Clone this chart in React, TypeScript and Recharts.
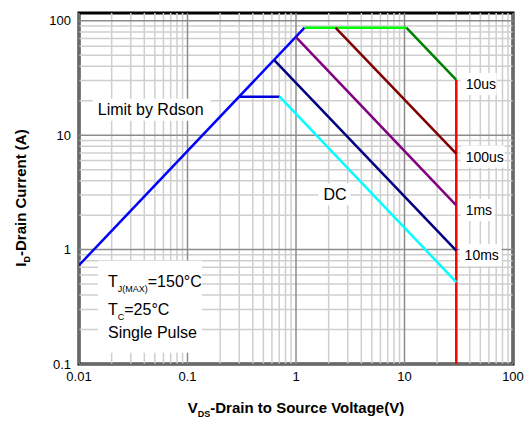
import { Line, LineChart, ReferenceArea, ReferenceDot, ReferenceLine, XAxis, YAxis } from "recharts";

// axis values
const xMajor = [0.01, 0.1, 1, 10, 100];
const xMinor = [
  0.02, 0.03, 0.04, 0.05, 0.06, 0.07, 0.08, 0.09,
  0.2, 0.3, 0.4, 0.5, 0.6, 0.7, 0.8, 0.9,
  2, 3, 4, 5, 6, 7, 8, 9,
  20, 30, 40, 50, 60, 70, 80, 90,
];
const yMajor = [0.1, 1, 10, 100];
const yMinor = [
  0.2, 0.3, 0.4, 0.5, 0.6, 0.7, 0.8, 0.9,
  2, 3, 4, 5, 6, 7, 8, 9,
  20, 30, 40, 50, 60, 70, 80, 90,
];
const xDomain = [0.01, 100];
const yDomain = [0.1, 117];

// SOA boundaries (V, A)
const limitRdson = [{ v: 0.01, i: 0.73 }, { v: 1.2, i: 87 }];
const us10Flat = [{ v: 1.2, i: 87 }, { v: 10.4, i: 87 }];
const us10Slope = [{ v: 10.4, i: 87 }, { v: 30, i: 30.4 }];
const us100 = [{ v: 2.31, i: 87 }, { v: 30, i: 6.9 }];
const ms1 = [{ v: 1.0, i: 72 }, { v: 30, i: 2.44 }];
const ms10 = [{ v: 0.63, i: 45.4 }, { v: 30, i: 0.98 }];
const dcFlat = [{ v: 0.3, i: 21.7 }, { v: 0.706, i: 21.7 }];
const dcSlope = [{ v: 0.706, i: 21.7 }, { v: 30, i: 0.52 }];
const vdsMax = [{ v: 30, i: 30.4 }, { v: 30, i: 0.1 }];

const font = "Arial, 'Liberation Sans', sans-serif";

const Note = ({ cx, cy, text, size = 14, w }: any) => (
  <g>
    <rect x={cx - 5} y={cy - 11} width={w} height={22} fill="#fff" />
    <text x={cx} y={cy} dy="0.36em" fontSize={size} fontFamily={font} fill="#000">
      {text}
    </text>
  </g>
);

const notes = [
  { v: 36.6, i: 28, text: "10us", w: 36 },
  { v: 36.6, i: 6.5, text: "100us", w: 44 },
  { v: 36.6, i: 2.22, text: "1ms", w: 34 },
  { v: 35.8, i: 0.895, text: "10ms", w: 42 },
];

const CondBox = ({ cx, cy }: any) => (
  <g fontFamily={font} fill="#000">
    <rect x={cx} y={cy} width={104} height={92} fill="#fff" />
    <text x={cx + 10} y={cy + 26} fontSize={16}>
      T<tspan fontSize={9} dy={5}>J(MAX)</tspan>
      <tspan dy={-5}>=150°C</tspan>
    </text>
    <text x={cx + 10} y={cy + 54} fontSize={16}>
      T<tspan fontSize={9} dy={5}>C</tspan>
      <tspan dy={-5}>=25°C</tspan>
    </text>
    <text x={cx + 10} y={cy + 77} fontSize={16}>Single Pulse</text>
  </g>
);

const seg = (data: any[], color: string, key: string) => (
  <Line
    key={key}
    data={data}
    dataKey="i"
    type="linear"
    stroke={color}
    strokeWidth={2.5}
    dot={false}
    isAnimationActive={false}
  />
);

export default function App() {
  return (
    <div style={{ position: "absolute", left: 0, top: 0, background: "#fff", fontFamily: font }}>
      <LineChart width={529} height={425} margin={{ top: 13, right: 16, bottom: 31, left: 0 }}>
        <XAxis
          dataKey="v"
          type="number"
          scale="log"
          domain={xDomain}
          allowDataOverflow
          ticks={xMajor}
          tickFormatter={(v) => String(v)}
          axisLine={false}
          tickLine={false}
          tick={{ fontSize: 13, fill: "#000" }}
          height={30}
          label={{
            content: () => (
              <text x={296} y={413} textAnchor="middle" fontSize={15} fontWeight="bold" fontFamily={font} fill="#000">
                V<tspan fontSize={9} dy={4}>DS</tspan>
                <tspan dy={-4}>-Drain to Source Voltage(V)</tspan>
              </text>
            ),
          }}
        />
        <YAxis
          type="number"
          scale="log"
          domain={yDomain}
          allowDataOverflow
          ticks={yMajor}
          tickFormatter={(v) => String(v)}
          axisLine={false}
          tickLine={false}
          tick={{ fontSize: 13, fill: "#000" }}
          width={79}
          label={{
            content: () => (
              <text
                x={26}
                y={198}
                transform="rotate(-90 26 198)"
                textAnchor="middle"
                fontSize={15}
                fontWeight="bold"
                fontFamily={font}
                fill="#000"
              >
                I<tspan fontSize={9} dy={4}>D</tspan>
                <tspan dy={-4}>-Drain Current (A)</tspan>
              </text>
            ),
          }}
        />
        {/* inner frame ticks */}
        <YAxis yAxisId="tl" orientation="left" mirror type="number" scale="log" domain={yDomain} allowDataOverflow
          ticks={[...yMajor, ...yMinor]} interval={0} tick={false} axisLine={false} tickLine={{ stroke: "#000" }} tickSize={4} />
        <YAxis yAxisId="tr" orientation="right" mirror type="number" scale="log" domain={yDomain} allowDataOverflow
          ticks={[...yMajor, ...yMinor]} interval={0} tick={false} axisLine={false} tickLine={{ stroke: "#000" }} tickSize={4} />
        <XAxis xAxisId="tb" orientation="bottom" mirror type="number" scale="log" domain={xDomain} allowDataOverflow
          ticks={[...xMajor, ...xMinor]} interval={0} tick={false} axisLine={false} tickLine={{ stroke: "#000" }} tickSize={4} />
        <XAxis xAxisId="tt" orientation="top" mirror type="number" scale="log" domain={xDomain} allowDataOverflow
          ticks={[...xMajor, ...xMinor]} interval={0} tick={false} axisLine={false} tickLine={{ stroke: "#000" }} tickSize={4} />

        {xMinor.map((v) => (
          <ReferenceLine key={"xm" + v} x={v} stroke="#cfcfcf" strokeWidth={1.5} />
        ))}
        {yMinor.map((v) => (
          <ReferenceLine key={"ym" + v} y={v} stroke="#cfcfcf" strokeWidth={1.5} />
        ))}
        {xMajor.map((v) => (
          <ReferenceLine key={"xM" + v} x={v} stroke="#8c8c8c" strokeWidth={1.5} />
        ))}
        {yMajor.map((v) => (
          <ReferenceLine key={"yM" + v} y={v} stroke="#8c8c8c" strokeWidth={1.5} />
        ))}

        <ReferenceDot
          x={0.0149}
          y={16.7}
          r={0}
          shape={(p: any) => <Note cx={p.cx} cy={p.cy} text="Limit by Rdson" size={16} w={118} />}
        />
        <ReferenceDot x={0.01496} y={0.8} r={0} shape={(p: any) => <CondBox cx={p.cx} cy={p.cy} />} />
        <ReferenceDot
          x={2.31}
          y={3.04}
          r={0}
          shape={(p: any) => <Note cx={p.cx - 12} cy={p.cy} text="DC" size={16} w={32} />}
        />
        {notes.map((n) => (
          <ReferenceDot
            key={n.text}
            x={n.v}
            y={n.i}
            r={0}
            shape={(p: any) => <Note cx={p.cx} cy={p.cy} text={n.text} w={n.w} />}
          />
        ))}

        {seg(vdsMax, "#ff0000", "vds")}
        {seg(limitRdson, "#0000ff", "rdson")}
        {seg(us10Flat, "#00ff00", "us10a")}
        {seg(us10Slope, "#008000", "us10b")}
        {seg(us100, "#800000", "us100")}
        {seg(ms1, "#800080", "ms1")}
        {seg(ms10, "#000080", "ms10")}
        {seg(dcFlat, "#0000dd", "dca")}
        {seg(dcSlope, "#00ffff", "dcb")}

        <ReferenceArea
          x1={xDomain[0]}
          x2={xDomain[1]}
          y1={yDomain[0]}
          y2={yDomain[1]}
          fill="none"
          fillOpacity={0}
          stroke="#000"
          strokeWidth={3}
          ifOverflow="visible"
        />
      </LineChart>
    </div>
  );
}
